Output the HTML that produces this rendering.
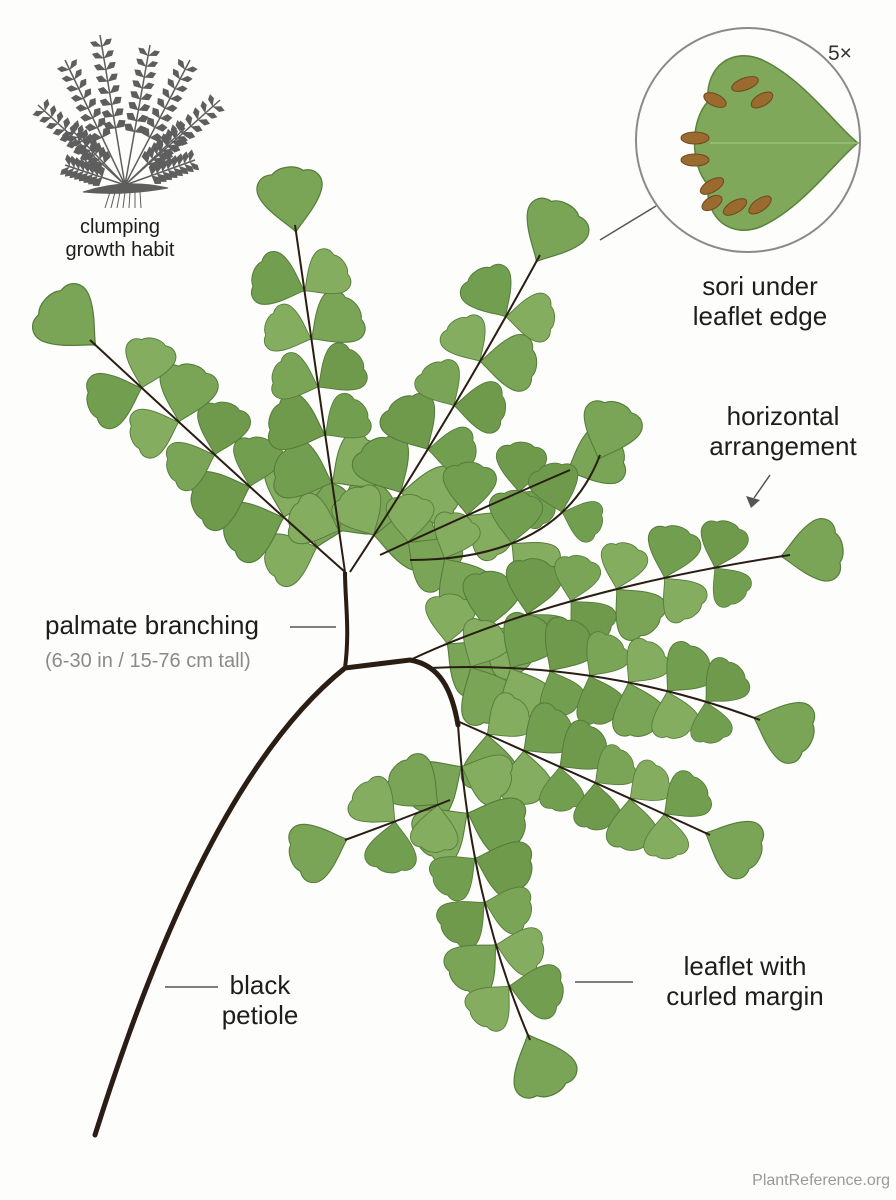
<!DOCTYPE html>
<html><head><meta charset="utf-8">
<style>
html,body{margin:0;padding:0;background:#fdfdfb;}
#w{position:relative;width:896px;height:1200px;overflow:hidden;font-family:"Liberation Sans",sans-serif;color:#1d1d1d;}
.t{position:absolute;text-align:center;line-height:1.15;}
</style></head><body>
<div id="w">
<svg id="s" width="896" height="1200" viewBox="0 0 896 1200" style="position:absolute;left:0;top:0">
<defs>
<path id="lf" d="M0,0 C-4,-6 -20,-18 -26,-32 C-30,-42 -24,-51 -13,-50 C-7,-56 7,-56 13,-50 C24,-51 30,-42 26,-32 C20,-18 4,-6 0,0Z"/>
<path id="gl" d="M0,0 L-4,-5 L0,-8 L4,-5Z"/>
</defs>
<g id="habit" fill="#5e5e5e" stroke="#5e5e5e"></g>
<g id="fern"></g>
<path d="M95,1135 C150,960 230,760 345,668 L410,660 C440,665 452,690 458,725" fill="none" stroke="#2a1d14" stroke-width="5" stroke-linecap="round"/>
<path d="M345,668 C350,630 345,600 345,572" fill="none" stroke="#2a1d14" stroke-width="4"/>
<circle cx="748" cy="140" r="112" fill="#fdfdfb" stroke="#8a8a8a" stroke-width="2"/>
<g transform="translate(858,143) rotate(-90) scale(3.2,3.0)">
<use href="#lf" fill="#7fa85a" stroke="#5b823c" stroke-width="0.5"/>
</g>
<line x1="858" y1="143" x2="710" y2="143" stroke="#9bbf78" stroke-width="1.5"/>
<g fill="#9a6a2e" stroke="#6e4a1e" stroke-width="1">
<ellipse cx="745" cy="84" rx="14" ry="6" transform="rotate(-20 745 84)"/>
<ellipse cx="715" cy="100" rx="12" ry="6" transform="rotate(25 715 100)"/>
<ellipse cx="762" cy="100" rx="12" ry="6" transform="rotate(-30 762 100)"/>
<ellipse cx="695" cy="138" rx="14" ry="6"/>
<ellipse cx="695" cy="160" rx="14" ry="6"/>
<ellipse cx="712" cy="186" rx="13" ry="6" transform="rotate(-30 712 186)"/>
<ellipse cx="735" cy="207" rx="13" ry="6" transform="rotate(-30 735 207)"/>
<ellipse cx="760" cy="205" rx="13" ry="6" transform="rotate(-35 760 205)"/>
<ellipse cx="712" cy="203" rx="11" ry="6" transform="rotate(-30 712 203)"/>
</g>
<g stroke="#555" stroke-width="1.5" fill="none">
<line x1="600" y1="240" x2="656" y2="206"/>
<line x1="290" y1="627" x2="336" y2="627"/>
<line x1="165" y1="987" x2="218" y2="987"/>
<line x1="575" y1="982" x2="633" y2="982"/>
<line x1="770" y1="475" x2="754" y2="498"/>
</g>
<path d="M746,496 L751,508 L760,500Z" fill="#555"/>
</svg>
<div class="t" style="left:30px;top:216px;width:180px;font-size:20px">clumping<br>growth habit</div>
<div class="t" style="left:828px;top:42px;font-size:21px;color:#333">5×</div>
<div class="t" style="left:660px;top:272px;width:200px;font-size:26px">sori under<br>leaflet edge</div>
<div class="t" style="left:683px;top:402px;width:200px;font-size:26px">horizontal<br>arrangement</div>
<div class="t" style="left:45px;top:611px;font-size:26px;text-align:left">palmate branching</div>
<div class="t" style="left:45px;top:650px;font-size:20px;color:#8a8a8a;text-align:left">(6-30 in / 15-76 cm tall)</div>
<div class="t" style="left:200px;top:971px;width:120px;font-size:26px">black<br>petiole</div>
<div class="t" style="left:640px;top:952px;width:210px;font-size:26px">leaflet with<br>curled margin</div>
<div class="t" style="left:700px;top:1172px;width:190px;font-size:16px;color:#999;text-align:right">PlantReference.org</div>
</div>
<script>
var NS="http://www.w3.org/2000/svg";
var fern=document.getElementById("fern");
function el(n,a,p){var e=document.createElementNS(NS,n);for(var k in a)e.setAttribute(k,a[k]);(p||fern).appendChild(e);return e;}
function q(r,t){var u=1-t;return [u*u*r[0]+2*u*t*r[2]+t*t*r[4],u*u*r[1]+2*u*t*r[3]+t*t*r[5]];}
function dq(r,t){return [2*(1-t)*(r[2]-r[0])+2*t*(r[4]-r[2]),2*(1-t)*(r[3]-r[1])+2*t*(r[5]-r[3])];}
var R=[
 [345,572,230,470,90,340,6,1.25],
 [345,572,320,400,295,225,6,1.2],
 [350,572,450,420,540,255,6,1.2],
 [380,555,500,500,570,470,3,1.1],
 [410,560,560,560,600,455,3,1.1],
 [410,660,560,590,790,555,7,1.15],
 [430,668,600,660,760,720,7,1.15],
 [455,720,590,780,710,835,6,1.1],
 [458,725,470,900,530,1040,6,1.2],
 [450,800,400,820,345,840,2,1.1]
];
var rach=[];
var cols=["#6f9a4c","#7aa556","#84ad60","#729e50"];
R.forEach(function(r){
 var n=r[6],s=r[7];
 for(var i=0;i<n;i++){
  var t=0.12+0.83*i/n;
  var p=q(r,t),d=dq(r,t);
  var a=Math.atan2(d[1],d[0])*180/Math.PI+90;
  [-1,1].forEach(function(sd){
   var ang=a+sd*62;
   var sc=s*(0.9+0.1*Math.sin(i*1.7+sd))*(1-0.2*t);
   el("use",{href:"#lf",transform:"translate("+p[0]+","+p[1]+") rotate("+ang+") scale("+sc+")",fill:cols[(i+(sd>0?1:2))%4],stroke:"#557c3a","stroke-width":1});
  });
 }
 var e=q(r,1),d=dq(r,1);var a=Math.atan2(d[1],d[0])*180/Math.PI+90;
 el("use",{href:"#lf",transform:"translate("+(e[0]-d[0]*0.02)+","+(e[1]-d[1]*0.02)+") rotate("+a+") scale("+r[7]+")",fill:"#7aa556",stroke:"#557c3a","stroke-width":1});
 rach.push("M"+r[0]+","+r[1]+" Q"+r[2]+","+r[3]+" "+r[4]+","+r[5]);
});
rach.forEach(function(d){el("path",{d:d,fill:"none",stroke:"#2a1d14","stroke-width":2});});
var h=document.getElementById("habit");
var fr=[[125,185,100,35],[125,185,65,60],[125,185,150,45],[125,185,190,60],[125,185,38,105],[125,185,220,100],[125,185,65,165],[125,185,195,160],[125,185,70,128],[125,185,185,128]];
fr.forEach(function(f){
 el("line",{x1:f[0],y1:f[1],x2:f[2],y2:f[3],"stroke-width":1.5},h);
 for(var i=1;i<=8;i++){var t=0.3+0.7*i/9;var x=f[0]+(f[2]-f[0])*t,y=f[1]+(f[3]-f[1])*t;
  var a=Math.atan2(f[3]-f[1],f[2]-f[0])*180/Math.PI+90;
  [-60,60].forEach(function(o){el("use",{href:"#gl",transform:"translate("+x+","+y+") rotate("+(a+o)+") scale("+(1.3-0.6*t)+",1.6)","stroke-width":0},h);});}
});
el("path",{d:"M83,192 Q125,178 168,188 Q125,196 83,192Z","stroke-width":1},h);
for(var i=0;i<7;i++)el("line",{x1:110+i*5,y1:192,x2:105+i*6,y2:208,"stroke-width":1},h);
</script>
</body></html>
